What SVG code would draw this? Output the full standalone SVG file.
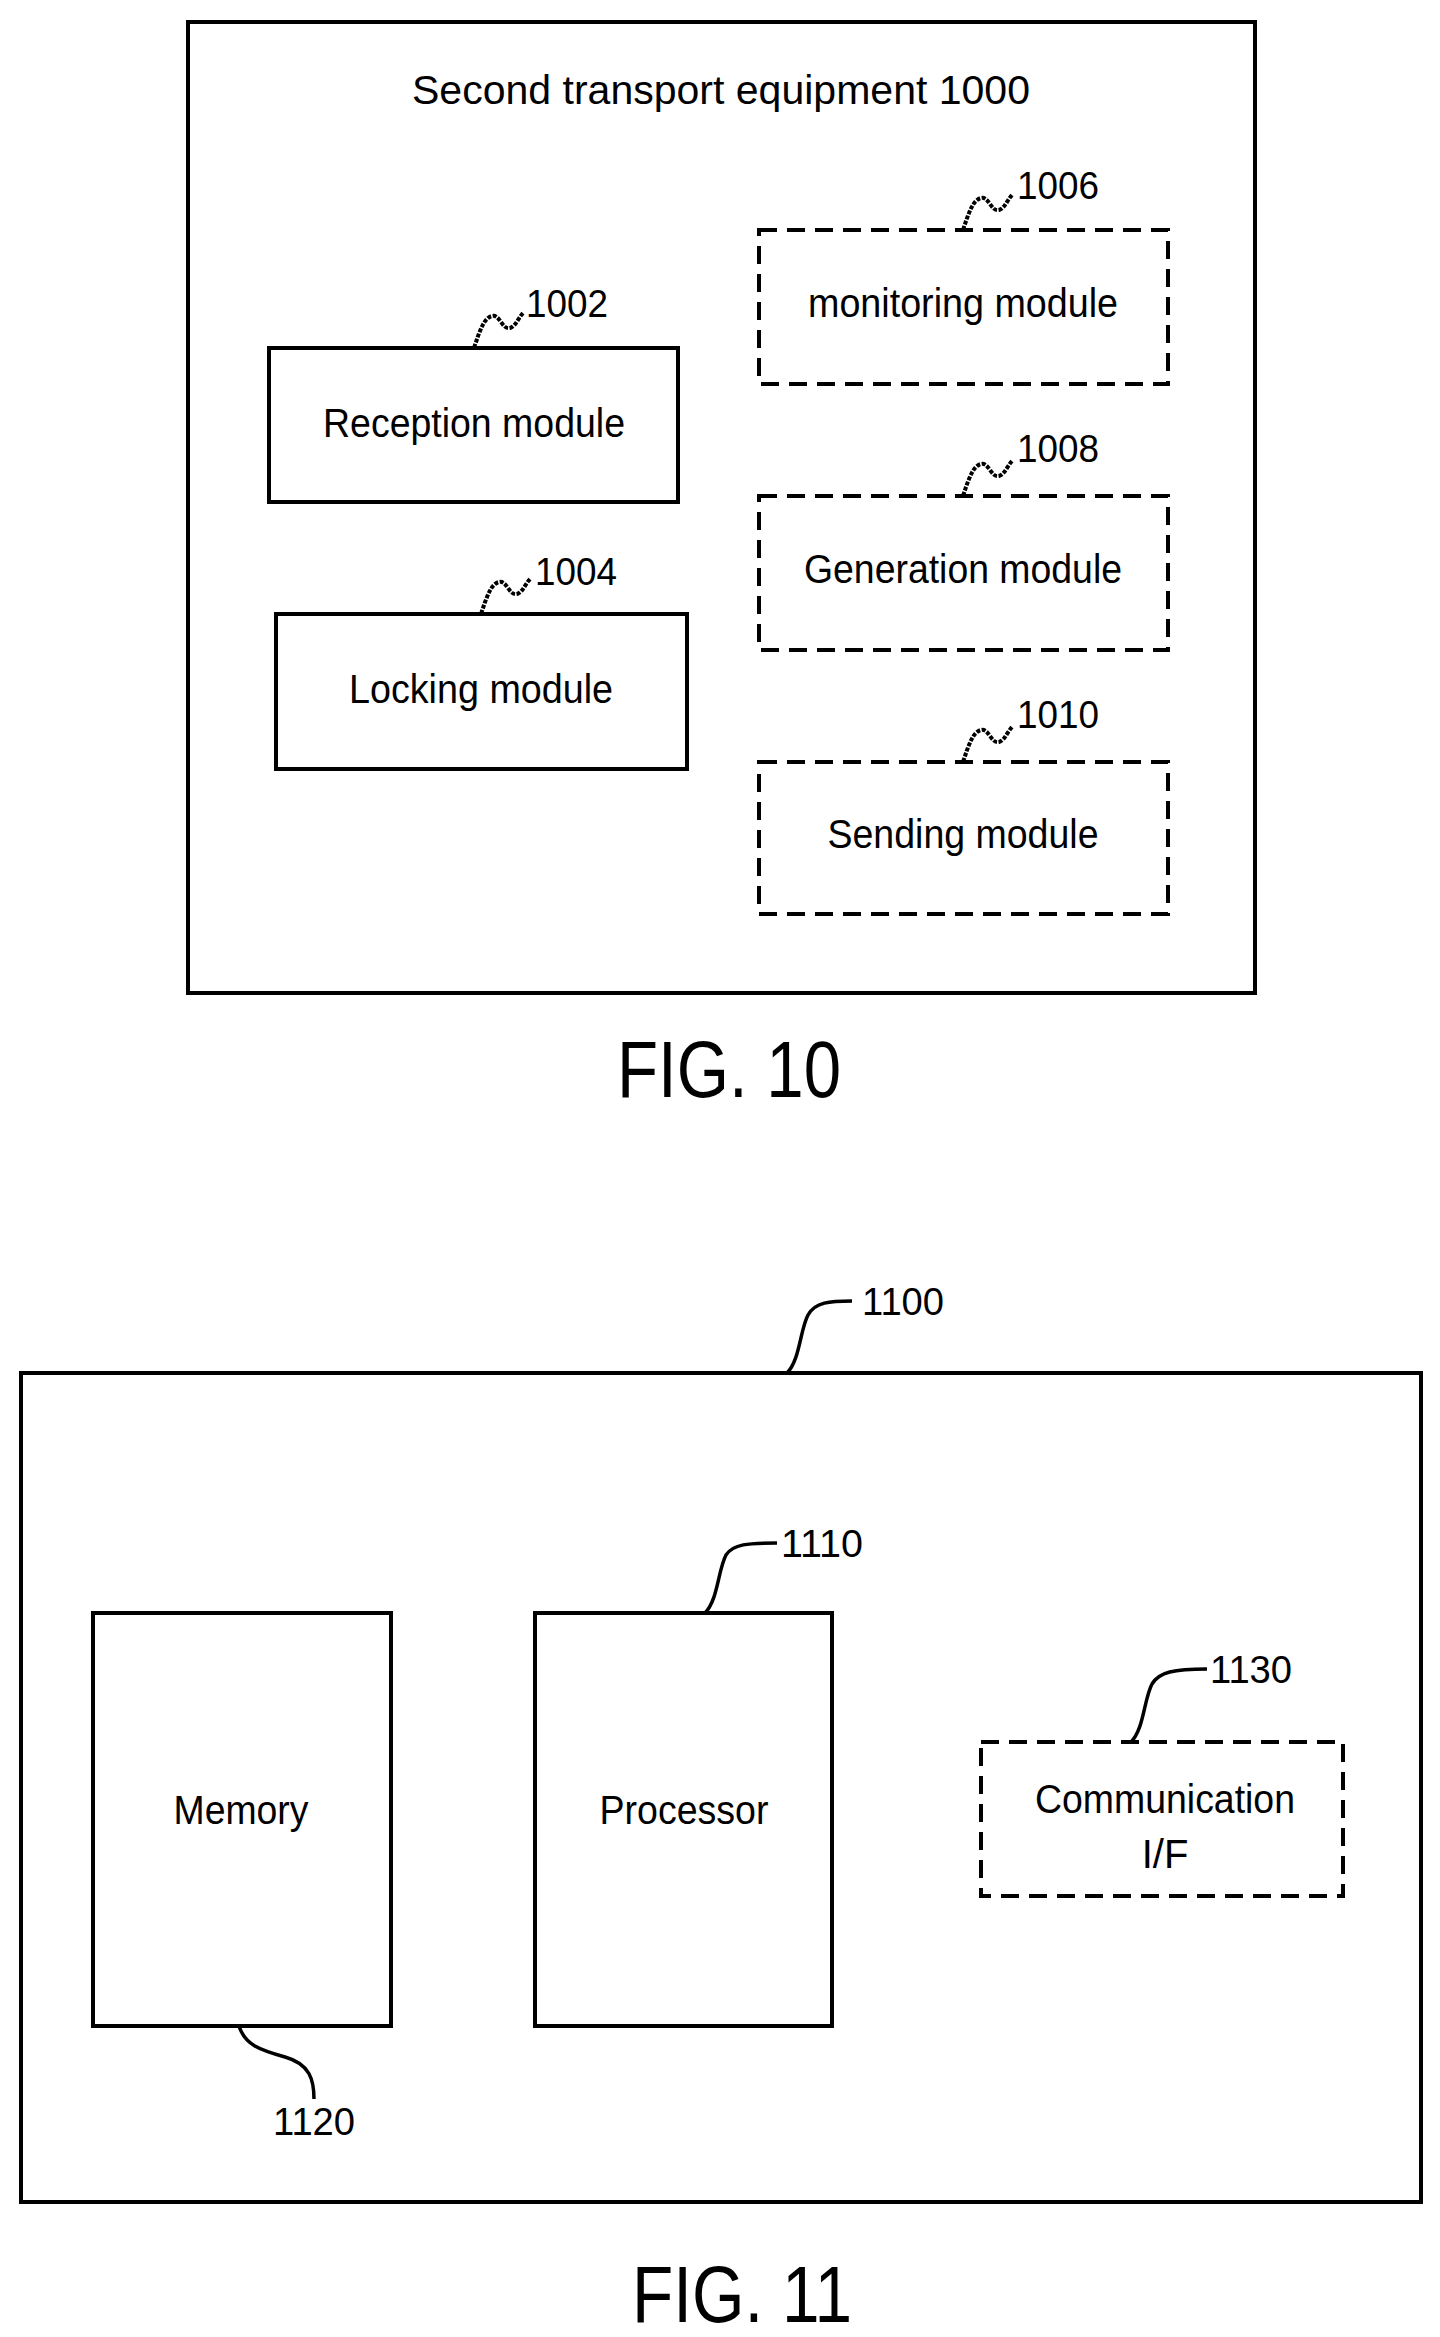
<svg xmlns="http://www.w3.org/2000/svg" width="1440" height="2337" viewBox="0 0 1440 2337">
<style>
.box{fill:none;stroke:#000;stroke-width:4}
.dash{fill:none;stroke:#000;stroke-width:4;stroke-dasharray:18 10}
.t{font-family:"Liberation Sans",Arial,sans-serif;font-size:40px;text-anchor:middle;fill:#000}
.n{font-family:"Liberation Sans",Arial,sans-serif;font-size:38px;fill:#000}
.fig{font-family:"Liberation Sans",Arial,sans-serif;font-size:80px;text-anchor:middle;fill:#000}
.sq{fill:none;stroke:#000;stroke-width:4;stroke-dasharray:4 1.5}
.ld{fill:none;stroke:#000;stroke-width:3.5}
</style>
<rect width="1440" height="2337" fill="#fff"/>
<g id="fig10">
<rect class="box" x="188" y="22" width="1067" height="971"/>
<text class="t" x="721" y="104" textLength="618" lengthAdjust="spacingAndGlyphs">Second transport equipment 1000</text>
</g>
<g id="n1002"><rect class="box" x="269" y="348" width="409" height="154"/><text class="t" x="474" y="437" textLength="302" lengthAdjust="spacingAndGlyphs">Reception module</text><text class="n" x="526" y="317" textLength="82" lengthAdjust="spacingAndGlyphs">1002</text></g>
<g id="n1004"><rect class="box" x="276" y="614" width="411" height="155"/><text class="t" x="481" y="703" textLength="264" lengthAdjust="spacingAndGlyphs">Locking module</text><text class="n" x="535" y="585" textLength="82" lengthAdjust="spacingAndGlyphs">1004</text></g>
<g id="n1006"><rect class="dash" x="759" y="230" width="409" height="154"/><text class="t" x="963" y="317" textLength="310" lengthAdjust="spacingAndGlyphs">monitoring module</text><text class="n" x="1017" y="199" textLength="82" lengthAdjust="spacingAndGlyphs">1006</text></g>
<g id="n1008"><rect class="dash" x="759" y="496" width="409" height="154"/><text class="t" x="963" y="583" textLength="318" lengthAdjust="spacingAndGlyphs">Generation module</text><text class="n" x="1017" y="462" textLength="82" lengthAdjust="spacingAndGlyphs">1008</text></g>
<g id="n1010"><rect class="dash" x="759" y="762" width="409" height="152"/><text class="t" x="963" y="848" textLength="271" lengthAdjust="spacingAndGlyphs">Sending module</text><text class="n" x="1017" y="728" textLength="82" lengthAdjust="spacingAndGlyphs">1010</text></g>
<text class="fig" x="729" y="1097" textLength="224" lengthAdjust="spacingAndGlyphs">FIG. 10</text>
<g id="fig11"><rect class="box" x="21" y="1373" width="1400" height="829"/><text class="n" x="862" y="1315" textLength="82" lengthAdjust="spacingAndGlyphs">1100</text></g>
<g id="n1120"><rect class="box" x="93" y="1613" width="298" height="413"/><text class="t" x="241" y="1824" textLength="135" lengthAdjust="spacingAndGlyphs">Memory</text><text class="n" x="314" y="2135" text-anchor="middle" textLength="82" lengthAdjust="spacingAndGlyphs">1120</text></g>
<g id="n1110"><rect class="box" x="535" y="1613" width="297" height="413"/><text class="t" x="684" y="1824" textLength="169" lengthAdjust="spacingAndGlyphs">Processor</text><text class="n" x="781" y="1557" textLength="82" lengthAdjust="spacingAndGlyphs">1110</text></g>
<g id="n1130"><rect class="dash" x="981" y="1742" width="362" height="154"/><text class="t" x="1165" y="1813" textLength="260" lengthAdjust="spacingAndGlyphs">Communication</text><text class="t" x="1165" y="1868">I/F</text><text class="n" x="1210" y="1683" textLength="82" lengthAdjust="spacingAndGlyphs">1130</text></g>
<text class="fig" x="742" y="2322" textLength="220" lengthAdjust="spacingAndGlyphs">FIG. 11</text>
<g id="connectors">
<path class="sq" d="M474 348 C480 330 484 318 492 316 C500 314 502 330 510 328 C516 326 518 318 524 312"/>
<path class="sq" d="M481 614 C487 596 491 584 499 582 C507 580 509 596 517 594 C523 592 525 584 531 578"/>
<path class="sq" d="M963 230 C969 212 973 200 981 198 C989 196 991 212 999 210 C1005 208 1007 200 1013 194"/>
<path class="sq" d="M963 496 C969 478 973 466 981 464 C989 462 991 478 999 476 C1005 474 1007 466 1013 460"/>
<path class="sq" d="M963 762 C969 744 973 732 981 730 C989 728 991 744 999 742 C1005 740 1007 732 1013 726"/>
<path class="ld" d="M787 1373 C800 1360 800 1330 808 1315 C815 1302 830 1301 852 1301"/>
<path class="ld" d="M705 1613 C718 1600 718 1570 726 1555 C733 1544 748 1543 777 1543"/>
<path class="ld" d="M1131 1742 C1144 1729 1144 1699 1152 1684 C1159 1672 1174 1669 1207 1669"/>
<path class="ld" d="M239 2026 C245 2045 260 2050 285 2057 C310 2064 314 2080 314 2099"/>
</g>
</svg>
